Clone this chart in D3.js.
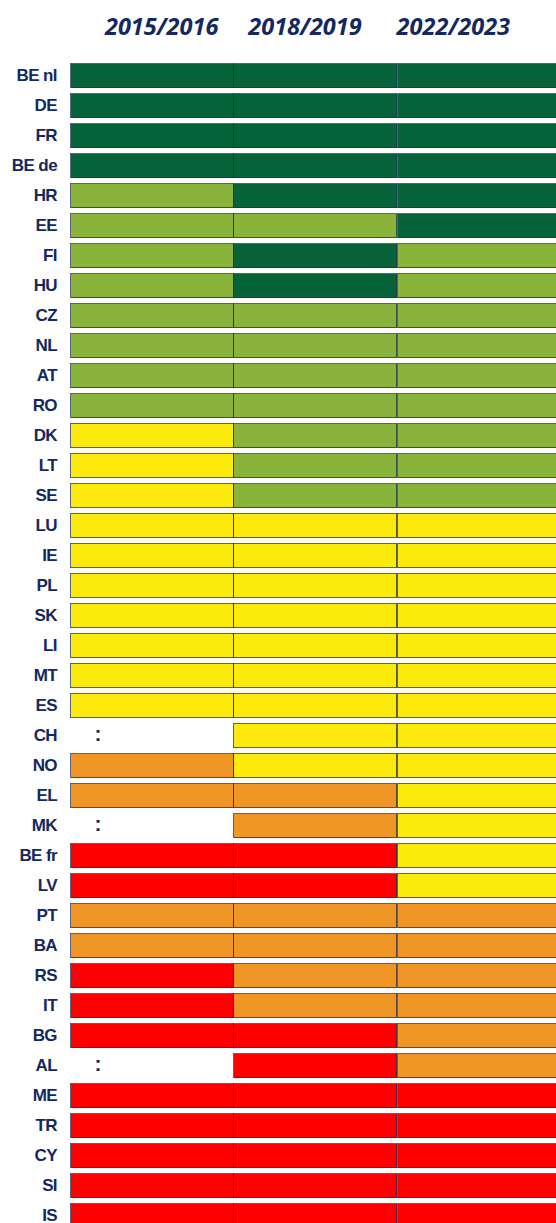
<!DOCTYPE html>
<meta charset="utf-8">
<style>
body { margin: 0; background: #fff; }
.label { font-family: "Liberation Sans", Arial, sans-serif; font-weight: bold; font-size: 17px; letter-spacing: -0.6px; fill: #13285f; }
.nodata { font-family: "Liberation Sans", Arial, sans-serif; font-weight: bold; font-size: 21px; fill: #13285f; }
.header { font-family: "Open Sans", sans-serif; font-weight: bold; font-style: italic; font-size: 23.5px; fill: #13285f; }
.cell { stroke: #1f2f55; stroke-opacity: 0.75; stroke-width: 1; shape-rendering: crispEdges; }
</style>
<svg width="556" height="1223"></svg>
<script src="https://d3js.org/d3.v7.min.js"></script>
<script>

var years = ["2015/2016", "2018/2019", "2022/2023"];

var countries = ["BE nl", "DE", "FR", "BE de", "HR", "EE", "FI", "HU", "CZ", "NL",
  "AT", "RO", "DK", "LT", "SE", "LU", "IE", "PL", "SK", "LI", "MT", "ES", "CH",
  "NO", "EL", "MK", "BE fr", "LV", "PT", "BA", "RS", "IT", "BG", "AL", "ME", "TR",
  "CY", "SI", "IS"];

// level per country per period: 4 best ... 0 worst, null = no data
var levels2015 = [4, 4, 4, 4, 3, 3, 3, 3, 3, 3, 3, 3, 2, 2, 2, 2, 2, 2, 2, 2, 2, 2, null,
  1, 1, null, 0, 0, 1, 1, 0, 0, 0, null, 0, 0, 0, 0, 0];
var levels2018 = [4, 4, 4, 4, 4, 3, 4, 4, 3, 3, 3, 3, 3, 3, 3, 2, 2, 2, 2, 2, 2, 2, 2,
  2, 1, 1, 0, 0, 1, 1, 1, 1, 0, 0, 0, 0, 0, 0, 0];
var levels2022 = [4, 4, 4, 4, 4, 4, 3, 3, 3, 3, 3, 3, 3, 3, 3, 2, 2, 2, 2, 2, 2, 2, 2,
  2, 2, 2, 2, 2, 1, 1, 1, 1, 1, 1, 0, 0, 0, 0, 0];

var levelColors = ["#ff0000", "#ef9626", "#fcea0c", "#8ab33b", "#07643a"];

var svg = d3.select("svg");

var x = d3.scaleBand()
    .domain(years)
    .range([70, 560]);

var y = d3.scaleBand()
    .domain(countries)
    .range([63, 1227])
    .paddingInner(0.2)
    .paddingOuter(0);

var color = d3.scaleOrdinal()
    .domain([0, 1, 2, 3, 4])
    .range(levelColors);

var series = [levels2015, levels2018, levels2022];

var cells = [];
countries.forEach(function(c, i) {
  years.forEach(function(yr, j) {
    cells.push({country: c, year: yr, level: series[j][i]});
  });
});

// header
var headerDx = [10, -10, -25];
svg.append("g").selectAll("text")
  .data(years)
  .enter().append("text")
    .attr("class", "header")
    .attr("x", function(d, i) { return x(d) + x.bandwidth() / 2 + headerDx[i]; })
    .attr("y", 35)
    .attr("text-anchor", "middle")
    .text(function(d) { return d; });

// row labels
svg.append("g").selectAll("text")
  .data(countries)
  .enter().append("text")
    .attr("class", "label")
    .attr("x", 57)
    .attr("y", function(d) { return y(d) + y.bandwidth() / 2; })
    .attr("dy", "0.36em")
    .attr("text-anchor", "end")
    .text(function(d) { return d; });

// cells
svg.append("g").selectAll("rect")
  .data(cells.filter(function(d) { return d.level !== null; }))
  .enter().append("rect")
    .attr("class", "cell")
    .attr("x", function(d) { return Math.round(x(d.year)) + 0.5; })
    .attr("y", function(d) { return Math.round(y(d.country)) + 0.5; })
    .attr("width", function(d) { return Math.round(x.bandwidth()); })
    .attr("height", Math.round(y.bandwidth()))
    .attr("fill", function(d) { return color(d.level); });

// no data marks
svg.append("g").selectAll("text")
  .data(cells.filter(function(d) { return d.level === null; }))
  .enter().append("text")
    .attr("class", "nodata")
    .attr("x", 98)
    .attr("y", function(d) { return y(d.country) + y.bandwidth() / 2; })
    .attr("dy", "0.3em")
    .attr("text-anchor", "middle")
    .text(":");

</script>
